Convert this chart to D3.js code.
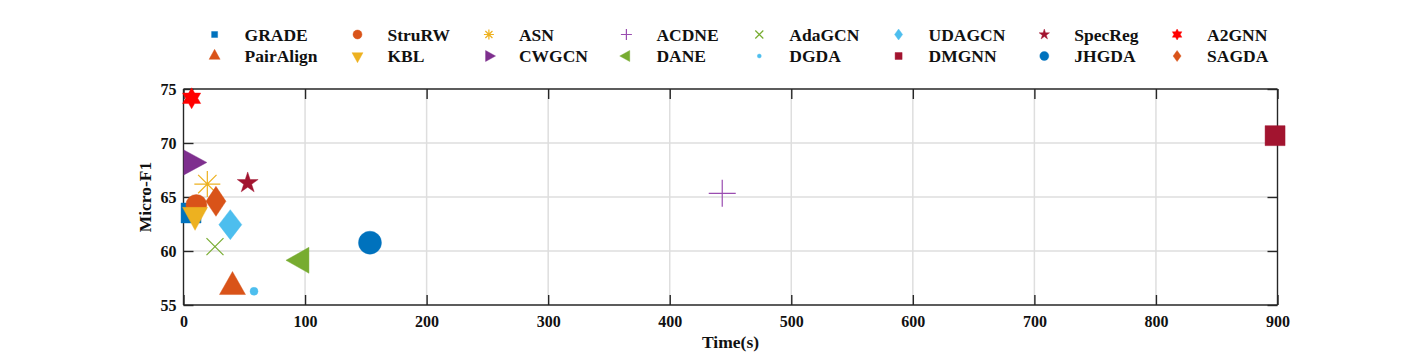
<!DOCTYPE html>
<html>
<head>
<meta charset="utf-8">
<script src="https://cdn.jsdelivr.net/npm/d3@7"></script>
<style>
  html, body { margin: 0; padding: 0; background: #fff; }
  svg { display: block; }
  text { font-family: "Liberation Serif", "Times New Roman", serif; font-weight: bold; fill: #111; }
</style>
</head>
<body>
<svg id="chart" width="1412" height="353"></svg>
<script>
// ---------------- data ----------------
const methods = ["GRADE","PairAlign","StruRW","KBL","ASN","CWGCN","ACDNE","DANE",
                 "AdaGCN","DGDA","UDAGCN","DMGNN","SpecReg","JHGDA","A2GNN","SAGDA"];
const timeSec = [6.2, 40.3, 10.6, 9.5, 19.6, 6.6, 443.2, 96.9,
                 25.9, 58.0, 38.5, 898.0, 52.8, 153.4, 6.7, 26.7];
const microF1 = [63.52, 56.68, 64.26, 63.33, 66.2, 68.2, 65.34, 59.14,
                 60.4, 56.27, 62.44, 70.68, 66.3, 60.77, 74.14, 64.6];
const markers = ["square","triangleUp","circle","triangleDown","asterisk","triangleRight","plus","triangleLeft",
                 "cross","dot","diamond","square","pentagram","circle","hexagram","diamond"];
const colors = ["#0072BD","#D95319","#D95319","#EDB120","#EDB120","#7E2F8E","#9A4DB0","#77AC30",
                "#77AC30","#4DBEEE","#4DBEEE","#A2142F","#A2142F","#0072BD","#FF0000","#D95319"];
const xTicks = [0,100,200,300,400,500,600,700,800,900];
const yTicks = [55,60,65,70,75];

// ---------------- layout ----------------
const svg = d3.select("#chart");
const L = 183.5, R = 1277.5, T = 89, B = 305;
const x = d3.scaleLinear().domain([0, 900]).range([L, R]);
const y = d3.scaleLinear().domain([55, 75]).range([B, T]);

// plot-size marker dimensions (px)
const bigSize = [
  {w:20,h:20},{w:26,h:23},{w:21,h:21},{w:25,h:23},{w:26,h:26},{w:23,h:25},{w:27,h:27},{w:23,h:26},
  {w:17,h:17},{w:8,h:8},{w:23,h:30},{w:20,h:20},{w:11,h:11},{w:23,h:23},{w:10.5,h:10.5},{w:20,h:30}
];
const smallSize = [
  {w:6,h:6},{w:11,h:10},{w:9,h:9},{w:11,h:10},{w:10,h:10},{w:10,h:11},{w:11,h:11},{w:10,h:11},
  {w:8,h:8},{w:4,h:4},{w:8,h:11},{w:7,h:7},{w:5.5,h:5.5},{w:9,h:9},{w:5.5,h:5.5},{w:8,h:11}
];

function markerPath(type, s) {
  const w = s.w, h = s.h;
  switch (type) {
    case "square": return `M${-w/2},${-h/2}h${w}v${h}h${-w}Z`;
    case "circle": case "dot": {
      const p = d3.path(); p.arc(0, 0, w/2, 0, 2*Math.PI); return p.toString();
    }
    case "triangleUp": return `M0,${-2*h/3}L${w/2},${h/3}L${-w/2},${h/3}Z`;
    case "triangleDown": return `M0,${2*h/3}L${w/2},${-h/3}L${-w/2},${-h/3}Z`;
    case "triangleRight": return `M${2*w/3},0L${-w/3},${h/2}L${-w/3},${-h/2}Z`;
    case "triangleLeft": return `M${-2*w/3},0L${w/3},${h/2}L${w/3},${-h/2}Z`;
    case "diamond": return `M0,${-h/2}L${w/2},0L0,${h/2}L${-w/2},0Z`;
    case "plus": return `M${-w/2},0H${w/2}M0,${-h/2}V${h/2}`;
    case "cross": return `M${-w/2},${-h/2}L${w/2},${h/2}M${-w/2},${h/2}L${w/2},${-h/2}`;
    case "asterisk": {
      const r = w/2, d = r*Math.SQRT1_2;
      return `M${-r},0H${r}M0,${-r}V${r}M${-d},${-d}L${d},${d}M${-d},${d}L${d},${-d}`;
    }
    case "pentagram": {
      const Ro = w, Ri = w*0.382; let p = "";
      for (let i = 0; i < 10; i++) {
        const a = -Math.PI/2 + i*Math.PI/5, rr = i%2 ? Ri : Ro;
        p += (i ? "L" : "M") + (rr*Math.cos(a)).toFixed(2) + "," + (rr*Math.sin(a)).toFixed(2);
      }
      return p + "Z";
    }
    case "hexagram": {
      const Ro = w, Ri = w/Math.sqrt(3); let p = "";
      for (let i = 0; i < 12; i++) {
        const a = -Math.PI/2 + i*Math.PI/6, rr = i%2 ? Ri : Ro;
        p += (i ? "L" : "M") + (rr*Math.cos(a)).toFixed(2) + "," + (rr*Math.sin(a)).toFixed(2);
      }
      return p + "Z";
    }
  }
}
const lineTypes = new Set(["plus","cross","asterisk"]);
function styleMarker(sel, i) {
  const t = markers[i];
  if (lineTypes.has(t)) {
    sel.attr("fill","none").attr("stroke",colors[i]).attr("stroke-width",1.2);
  } else {
    sel.attr("fill",colors[i]).attr("stroke",colors[i]).attr("stroke-width",0.6).attr("stroke-opacity",0.7);
  }
}

// grid
const grid = svg.append("g");
grid.selectAll("line.gx").data(xTicks.slice(1, -1)).join("line")
  .attr("x1", d => x(d)).attr("x2", d => x(d)).attr("y1", T).attr("y2", B)
  .attr("stroke", "#dedede").attr("stroke-width", 1.5);
grid.selectAll("line.gy").data(yTicks.slice(1, -1)).join("line")
  .attr("y1", d => y(d)).attr("y2", d => y(d)).attr("x1", L).attr("x2", R)
  .attr("stroke", "#dedede").attr("stroke-width", 1.5);

// axes (ticks inward, box)
const tickLen = 10;
const axColor = "#262626";
const xAxisB = d3.axisBottom(x).tickValues(xTicks).tickSize(-tickLen).tickPadding(11).tickFormat(d3.format("d"));
const xAxisT = d3.axisTop(x).tickValues(xTicks).tickSize(-tickLen).tickFormat("");
const yAxisL = d3.axisLeft(y).tickValues(yTicks).tickSize(-tickLen).tickPadding(7).tickFormat(d3.format("d"));
const yAxisR = d3.axisRight(y).tickValues(yTicks).tickSize(-tickLen).tickFormat("");

function styleAxis(g) {
  g.select(".domain").attr("stroke", axColor).attr("stroke-width", 1.4);
  g.selectAll(".tick line").attr("stroke", axColor).attr("stroke-width", 1.4);
  g.selectAll(".tick text").attr("font-family", "Liberation Serif, serif").attr("font-weight", "bold")
    .attr("font-size", 16).attr("fill", "#111");
}
svg.append("g").attr("transform", `translate(0,${B})`).call(xAxisB).call(styleAxis)
  .call(g => g.select(".domain").attr("d", `M${L},0H${R}`));
svg.append("g").attr("transform", `translate(0,${T})`).call(xAxisT).call(styleAxis)
  .call(g => g.select(".domain").attr("d", `M${L},0H${R}`));
svg.append("g").attr("transform", `translate(${L},0)`).call(yAxisL).call(styleAxis)
  .call(g => g.select(".domain").attr("d", `M0,${T}V${B}`));
svg.append("g").attr("transform", `translate(${R},0)`).call(yAxisR).call(styleAxis)
  .call(g => g.select(".domain").attr("d", `M0,${T}V${B}`));

// axis titles
svg.append("text").attr("x", (L + R) / 2).attr("y", 348).attr("text-anchor", "middle")
  .attr("font-size", 17.5).text("Time(s)");
svg.append("text").attr("transform", `translate(151,${(T + B) / 2}) rotate(-90)`)
  .attr("text-anchor", "middle").attr("font-size", 17.5).text("Micro-F1");

// points
const pts = svg.append("g");
methods.forEach((m, i) => {
  pts.append("path")
    .attr("d", markerPath(markers[i], bigSize[i]))
    .attr("transform", `translate(${x(timeSec[i])},${y(microF1[i])})`)
    .call(styleMarker, i);
});

// legend (8 columns x 2 rows, column-major order)
const colMarkerX = [214.6, 357.5, 488.9, 626.4, 759.3, 898.6, 1044.3, 1177.1];
const rowY = [34.5, 56];
const leg = svg.append("g");
methods.forEach((m, i) => {
  const c = Math.floor(i / 2), r = i % 2;
  const mx = colMarkerX[c], my = rowY[r];
  leg.append("path").attr("d", markerPath(markers[i], smallSize[i]))
    .attr("transform", `translate(${mx},${my})`).call(styleMarker, i);
  leg.append("text").attr("x", mx + 30).attr("y", my).attr("dy", "0.35em")
    .attr("font-size", 17.5).text(m);
});
</script>
</body>
</html>
